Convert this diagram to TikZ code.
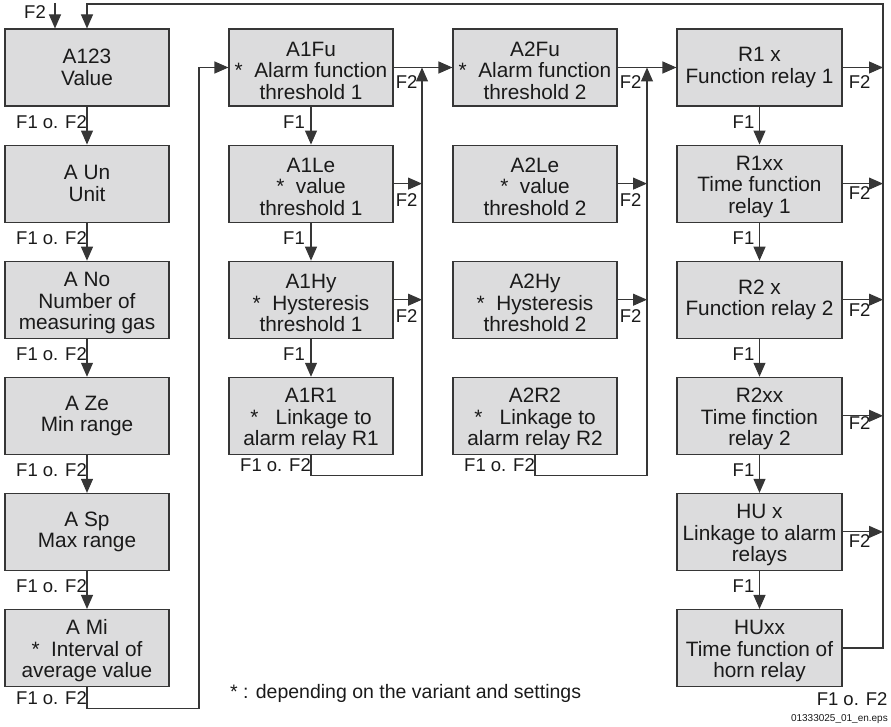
\documentclass[tikz,border=0pt]{standalone}
\usepackage{fontspec}
\setmainfont{Liberation Sans}
\usetikzlibrary{arrows.meta,calc}
\definecolor{boxfill}{HTML}{DCDCDD}
\definecolor{edge}{HTML}{363636}
\definecolor{ink}{HTML}{1A1A1A}
% taller first line: lowers a three-line block a little inside its box
\newcommand\firstrow{\rule{0pt}{21pt}}
\begin{document}
\begin{tikzpicture}[x=1pt,y=-1pt,
  box/.style={draw=edge, line width=1.1pt, fill=boxfill, minimum width=164pt,
    minimum height=77pt, inner sep=0pt, align=center, text=ink,
    font=\fontsize{20.8}{21.5}\selectfont},
  wide/.style={box, minimum width=165pt},
  conn/.style={draw=edge, line width=1.1pt},
  arr/.style={conn, -{Triangle[length=14pt,width=12pt]}},
  lbl/.style={inner sep=0pt, text=ink, font=\fontsize{18.5}{20}\selectfont}]
\useasboundingbox (0,0) rectangle (891,727);

% ---- column 1: display settings
\node[box] (a1) at (87,67.5)  {A123\\Value};
\node[box] (a2) at (87,183.6) {A Un\\Unit};
\node[box] (a3) at (87,299.7) {\firstrow A No\\Number of\\measuring gas};
\node[box] (a4) at (87,415.8) {A Ze\\Min range};
\node[box] (a5) at (87,531.9) {A Sp\\Max range};
\node[box] (a6) at (87,648)   {\firstrow A Mi\\*\ \ Interval of\\average value};

% ---- column 2: threshold 1
\node[box] (b1) at (311,67.5)  {\firstrow A1Fu\\*\ \ Alarm function\\threshold 1};
\node[box] (b2) at (311,183.6) {\firstrow A1Le\\*\ \ value\\threshold 1};
\node[box] (b3) at (311,299.7) {\firstrow A1Hy\\*\ \ Hysteresis\\threshold 1};
\node[box] (b4) at (311,415.8) {\firstrow A1R1\\*\ \ \ Linkage to\\alarm relay R1};

% ---- column 3: threshold 2
\node[box] (c1) at (535,67.5)  {\firstrow A2Fu\\*\ \ Alarm function\\threshold 2};
\node[box] (c2) at (535,183.6) {\firstrow A2Le\\*\ \ value\\threshold 2};
\node[box] (c3) at (535,299.7) {\firstrow A2Hy\\*\ \ Hysteresis\\threshold 2};
\node[box] (c4) at (535,415.8) {\firstrow A2R2\\*\ \ \ Linkage to\\alarm relay R2};

% ---- column 4: relays
\node[wide] (r1) at (759.5,67.5)  {R1 x\\Function relay 1};
\node[wide] (r2) at (759.5,183.6) {\firstrow R1xx\\Time function\\relay 1};
\node[wide] (r3) at (759.5,299.7) {R2 x\\Function relay 2};
\node[wide] (r4) at (759.5,415.8) {\firstrow R2xx\\Time finction\\relay 2};
\node[wide] (r5) at (759.5,531.9) {\firstrow HU x\\Linkage to alarm\\relays};
\node[wide] (r6) at (759.5,648)   {\firstrow HUxx\\Time function of\\horn relay};

% junction points of the collecting lines
\coordinate (ret1) at (199,67.5);
\coordinate (col2) at (422,67.5);
\coordinate (col3) at (647,67.5);
\coordinate (rail) at (883,4);
\coordinate (f2in) at (55,3);

% ---- column 1 chain
\foreach \u/\v in {a1/a2,a2/a3,a3/a4,a4/a5,a5/a6}{
  \draw[arr] (\u.south) -- (\v.north);
  \node[lbl, anchor=base east] at ($(\u.south)+(0,22)$) {F1 o. F2};
}
\draw[arr] (a6.south) -- ++(0,21) -| (ret1) -- (b1.west);
\node[lbl, anchor=base east] at ($(a6.south)+(0,17)$) {F1 o. F2};

% ---- column 2 chain
\foreach \u/\v in {b1/b2,b2/b3,b3/b4}{
  \draw[arr] (\u.south) -- (\v.north);
  \node[lbl, anchor=base east] at ($(\u.south)+(-6,22)$) {F1};
}
\draw[arr] (b1.east) -- (c1.west);
\node[lbl, anchor=base west] at ($(b1.east)+(2,21)$) {F2};
\foreach \u in {b2,b3}{
  \draw[arr] (\u.east) -- (\u.east -| col2);
  \node[lbl, anchor=base west] at ($(\u.east)+(2,23)$) {F2};
}
\draw[arr] (b4.south) -- ++(0,21) -| (col2);
\node[lbl, anchor=base east] at ($(b4.south)+(0,17)$) {F1 o. F2};

% ---- column 3
\draw[arr] (c1.east) -- (r1.west);
\node[lbl, anchor=base west] at ($(c1.east)+(2,21)$) {F2};
\foreach \u in {c2,c3}{
  \draw[arr] (\u.east) -- (\u.east -| col3);
  \node[lbl, anchor=base west] at ($(\u.east)+(2,23)$) {F2};
}
\draw[arr] (c4.south) -- ++(0,21) -| (col3);
\node[lbl, anchor=base east] at ($(c4.south)+(0,17)$) {F1 o. F2};

% ---- column 4 chain
\foreach \u/\v in {r1/r2,r2/r3,r3/r4,r4/r5,r5/r6}{
  \draw[arr] (\u.south) -- (\v.north);
  \node[lbl, anchor=base east] at ($(\u.south)+(-5,22)$) {F1};
}
\foreach \u/\dy in {r1/21,r2/16,r3/17,r4/14,r5/16}{
  \draw[arr] (\u.east) -- (\u.east -| rail);
  \node[lbl, anchor=base west] at ($(\u.east)+(6,\dy)$) {F2};
}
\draw[arr] (r6.east) -- (r6.east -| rail) -- (rail) -| (a1.north);
\node[lbl, anchor=base east] at ($(r6.south east)+(45,18)$) {F1 o. F2};

% ---- entry key
\draw[arr] (f2in) -- (f2in |- a1.north);
\node[lbl, anchor=base east] at (46,19) {F2};

% ---- notes
\node[inner sep=0pt, anchor=base west, text=ink, font=\fontsize{19.5}{21}\selectfont]
  (note) at (230,698) {* : depending on the variant and settings};
\node[inner sep=0pt, anchor=base east, text=ink, font=\fontsize{10}{12}\selectfont]
  (file) at (888,721) {01333025\_01\_en.eps};
\end{tikzpicture}
\end{document}
